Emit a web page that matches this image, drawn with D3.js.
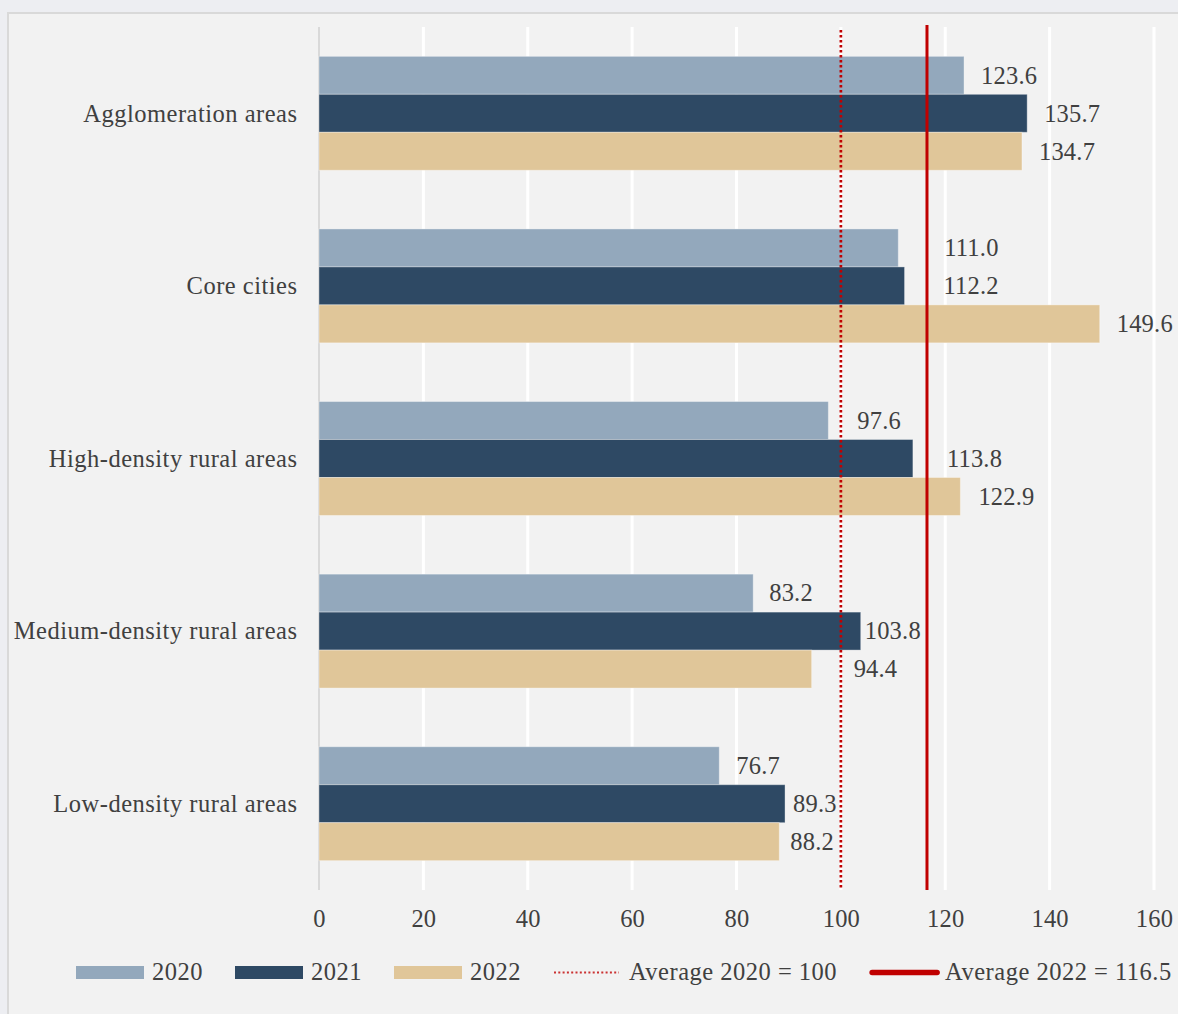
<!DOCTYPE html>
<html>
<head>
<meta charset="utf-8">
<script src="https://cdn.jsdelivr.net/npm/d3@7"></script>
<style>
  html, body { margin: 0; padding: 0; background: #edeef2; }
  svg { display: block; }
  text { font-family: "Liberation Serif", "Times New Roman", serif; fill: #404040; }
</style>
</head>
<body>
<svg id="chart" width="1178" height="1014"></svg>
<script>
// ---- data ----
const categories = ["Agglomeration areas", "Core cities", "High-density rural areas", "Medium-density rural areas", "Low-density rural areas"];
const seriesNames = ["2020", "2021", "2022"];
const values2020 = [123.6, 111.0, 97.6, 83.2, 76.7];
const values2021 = [135.7, 112.2, 113.8, 103.8, 89.3];
const values2022 = [134.7, 149.6, 122.9, 94.4, 88.2];
const xTicks = [0, 20, 40, 60, 80, 100, 120, 140, 160];
const avg2020 = 100;
const avg2022 = 116.5;
const legendLabels = ["2020", "2021", "2022", "Average 2020 = 100", "Average 2022 = 116.5"];
// label nudges (px right of bar end), as placed in the original chart
const labelShift2020 = [17, 46, 29, 16, 17];
const labelShift2021 = [17, 39, 34, 4, 8];
const labelShift2022 = [17, 17, 18, 42, 11];

const colors = ["#93a8bc", "#2e4964", "#e0c699"];
const red = "#c00000";

const svg = d3.select("#chart");
const FS = 24.5;

// panel
svg.append("rect").attr("x", 8).attr("y", 13).attr("width", 1200).attr("height", 1040)
  .attr("fill", "#f2f2f2").attr("stroke", "#d9d9d9").attr("stroke-width", 2);

const plotTop = 27, plotBottom = 890;
const x = d3.scaleLinear().domain([0, 160]).range([319, 1154]);
const y = d3.scaleBand().domain(categories).range([plotTop, plotBottom]).paddingInner(0.34).paddingOuter(0.17);
const ys = d3.scaleBand().domain(seriesNames).range([0, y.bandwidth()]);

// gridlines
svg.append("g").selectAll("line").data(xTicks.filter(d => d > 0)).join("line")
  .attr("x1", d => x(d)).attr("x2", d => x(d)).attr("y1", plotTop).attr("y2", plotBottom)
  .attr("stroke", "#ffffff").attr("stroke-width", 3);
// category axis line
svg.append("line").attr("x1", x(0)).attr("x2", x(0)).attr("y1", plotTop).attr("y2", plotBottom)
  .attr("stroke", "#d9d9d9").attr("stroke-width", 2);

const seriesVals = [values2020, values2021, values2022];
const shifts = [labelShift2020, labelShift2021, labelShift2022];
const rows = [];
categories.forEach((c, i) => {
  seriesNames.forEach((s, j) => {
    rows.push({cat: c, ser: s, j, v: seriesVals[j][i], shift: shifts[j][i]});
  });
});

// bars
svg.append("g").selectAll("rect").data(rows).join("rect")
  .attr("x", x(0))
  .attr("y", d => y(d.cat) + ys(d.ser))
  .attr("width", d => x(d.v) - x(0))
  .attr("height", ys.bandwidth())
  .attr("fill", d => colors[d.j])
  .attr("stroke", "rgba(255,255,255,0.35)")
  .attr("stroke-width", 1);

// reference lines
svg.append("line").attr("x1", x(avg2020)).attr("x2", x(avg2020)).attr("y1", 30).attr("y2", plotBottom)
  .attr("stroke", red).attr("stroke-width", 2.7).attr("stroke-dasharray", "2.6 2.4");
svg.append("line").attr("x1", x(avg2022)).attr("x2", x(avg2022)).attr("y1", 25).attr("y2", plotBottom)
  .attr("stroke", red).attr("stroke-width", 3);

// value labels
svg.append("g").selectAll("text").data(rows).join("text")
  .attr("x", d => x(d.v) + d.shift)
  .attr("y", d => y(d.cat) + ys(d.ser) + ys.bandwidth() / 2)
  .attr("dy", "0.34em")
  .attr("font-size", FS).attr("letter-spacing", 0.2)
  .text(d => d.v.toFixed(1));

// category labels
svg.append("g").selectAll("text").data(categories).join("text")
  .attr("x", 297.5).attr("y", d => y(d) + y.bandwidth() / 2)
  .attr("dy", "0.34em").attr("text-anchor", "end").attr("font-size", FS)
  .attr("letter-spacing", 0.5)
  .text(d => d);

// x axis
const xAxis = svg.append("g").attr("transform", `translate(0,${plotBottom})`)
  .call(d3.axisBottom(x).tickValues(xTicks).tickSize(0).tickPadding(0));
xAxis.select(".domain").remove();
xAxis.selectAll("text").attr("y", 29).attr("dy", "0.34em")
  .attr("font-size", FS).attr("font-family", "Liberation Serif").attr("fill", "#404040")
  .attr("letter-spacing", 0.2);

// legend
const lg = svg.append("g");
let cx = 76;
const ly = 972.5;
legendLabels.forEach((lab, i) => {
  let textX;
  if (i < 3) {
    lg.append("rect").attr("x", cx).attr("y", ly - 6.5).attr("width", 68).attr("height", 13).attr("fill", colors[i]);
    textX = cx + 76;
  } else if (i === 3) {
    lg.append("line").attr("x1", cx + 1).attr("x2", cx + 66).attr("y1", ly).attr("y2", ly)
      .attr("stroke", red).attr("stroke-opacity", 0.8).attr("stroke-width", 2.2)
      .attr("stroke-dasharray", "2 2.3");
    textX = cx + 76;
  } else {
    lg.append("line").attr("x1", cx + 3).attr("x2", cx + 68).attr("y1", ly).attr("y2", ly)
      .attr("stroke", red).attr("stroke-width", 5.5).attr("stroke-linecap", "round");
    textX = cx + 76;
  }
  const t = lg.append("text").attr("x", textX).attr("y", ly).attr("dy", "0.32em")
    .attr("font-size", FS).attr("letter-spacing", 0.5).text(lab);
  cx = textX + t.node().getComputedTextLength() + 32;
});
</script>
</body>
</html>
